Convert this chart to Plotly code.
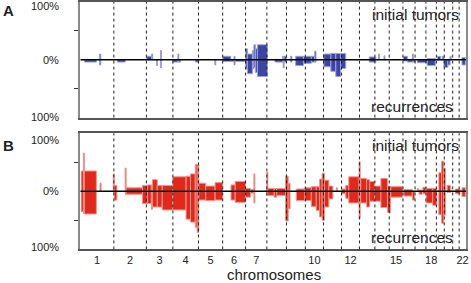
import plotly.graph_objects as go

# ---------------- data ----------------
chrom_names = [str(i) for i in range(1, 23)]
chrom_lengths = [249.3, 243.2, 198.0, 191.2, 180.9, 171.1, 159.1, 146.4, 141.2, 135.5, 135.0,
                 133.9, 115.2, 107.3, 102.5, 90.4, 81.2, 78.1, 59.1, 63.0, 48.1, 51.3]
shown_tick_labels = ["1", "2", "3", "4", "5", "6", "7", "10", "12", "15", "18", "22"]

# Panel A (genome position in Mb, frequency in %)
a_start = [30, 141, 275, 495, 532, 568, 598, 690, 728, 735, 859, 1004, 1064, 1123, 1147, 1155,
           1235, 1247, 1285, 1296, 1307, 1322, 1453, 1510, 1515, 1522, 1569, 1608, 1666, 1725, 1750,
           1819, 1871, 1908, 1945, 2158, 2228, 2268, 2413, 2443, 2480, 2487, 2517, 2591, 2666, 2703,
           2716, 2745, 2762, 2851]
a_end = [119, 152, 334, 532, 540, 575, 605, 728, 735, 748, 884, 1011, 1123, 1147, 1155, 1230,
         1247, 1285, 1296, 1307, 1322, 1396, 1510, 1515, 1522, 1539, 1580, 1666, 1725, 1750, 1760,
         1871, 1908, 1945, 1982, 2207, 2235, 2275, 2443, 2480, 2487, 2502, 2591, 2651, 2691, 2716,
         2745, 2762, 2770, 2876]
a_initial = [0, 10, 0, 6, 10, 0, 16, 0, 10, 0, 0, 0, 6, 0, 6, 0,
             19, 10, 16, 26, 19, 26, 0, 6, 6, 6, 6, 6, 6, 6, 15,
             10, 11, 11, 11, 5, 10, 7, 6, 0, 10, 0, 0, 2, 6, 6,
             0, 0, 6, 4]
a_recurrence = [4, 9, 4, 0, 0, 10, 14, 4, 4, 4, 4, 9, 3, 3, 9, 3,
                16, 24, 15, 13, 22, 29, 4, 4, 14, 4, 4, 10, 6, 4, 4,
                12, 20, 29, 15, 4, 0, 0, 2, 4, 4, 4, 5, 10, 0, 0,
                13, 9, 0, 9]

# Panel B
b_start = [5, 22, 29, 146, 245, 252, 334, 341, 463, 500, 530, 537, 574, 611, 690, 789, 822, 858, 872,
           884, 936, 1006, 1125, 1156, 1233, 1270, 1296, 1392, 1400, 1448, 1466, 1533, 1552, 1613,
           1676, 1725, 1762, 1787, 1806, 1823, 1856, 1912, 1953, 1982, 2005, 2082, 2094, 2138, 2161,
           2198, 2245, 2294, 2319, 2417, 2480, 2517, 2530, 2559, 2584, 2632, 2678, 2699, 2714, 2740,
           2801, 2851]
b_end = [22, 29, 119, 154, 252, 272, 341, 463, 500, 530, 537, 574, 611, 690, 789, 822, 858, 872, 884,
         936, 1006, 1062, 1156, 1233, 1270, 1296, 1303, 1400, 1448, 1466, 1533, 1552, 1566, 1676,
         1725, 1762, 1787, 1806, 1823, 1856, 1886, 1920, 1982, 2005, 2082, 2090, 2138, 2161, 2198,
         2245, 2294, 2317, 2406, 2480, 2497, 2525, 2554, 2580, 2632, 2662, 2699, 2714, 2727, 2764,
         2836, 2876]
b_initial = [35, 66, 35, 14, 30, 10, 40, 6, 10, 11, 11, 20, 10, 10, 25, 26, 30, 46, 46,
             14, 9, 15, 11, 17, 5, 3, 30, 33, 5, 5, 5, 26, 14, 4,
             6, 8, 8, 21, 31, 19, 9, 6, 4, 10, 25, 51, 22, 20, 17,
             9, 22, 9, 8, 3, 0, 5, 2, 7, 5, 5, 32, 52, 39, 10,
             4, 6]
b_recurrence = [35, 38, 39, 0, 0, 15, 5, 5, 21, 21, 31, 27, 27, 32, 32, 48, 53, 62, 71,
                15, 16, 15, 15, 19, 10, 3, 20, 7, 7, 10, 7, 51, 30, 16,
                16, 26, 33, 44, 50, 27, 13, 0, 4, 12, 20, 47, 20, 27, 17,
                17, 28, 36, 10, 8, 15, 0, 5, 4, 20, 24, 40, 55, 41, 2,
                4, 9]

# ---------------- figure ----------------
W, H = 471, 283
FONT = "Liberation Sans, Arial, Helvetica, sans-serif"

chrom_starts = []
pos = 0.0
for L in chrom_lengths:
    chrom_starts.append(pos)
    pos += L
genome_end = pos
chrom_centers = [s + L / 2 for s, L in zip(chrom_starts, chrom_lengths)]
tick_vals = [c for c, n in zip(chrom_centers, chrom_names) if n in shown_tick_labels]
tick_text = [n for n in chrom_names if n in shown_tick_labels]


def bar_trace(starts, ends, vals, sign, color, halo, xa, ya):
    xs, ws, ys = [], [], []
    for s, e, v in zip(starts, ends, vals):
        if v == 0:
            continue
        xs.append((s + e) / 2)
        ws.append(e - s)
        ys.append(sign * v)
    return go.Bar(x=xs, y=ys, width=ws, base=0, xaxis=xa, yaxis=ya,
                  marker=dict(color=color, line=dict(color=halo, width=1)),
                  showlegend=False, hoverinfo="skip")


BLUE, BLUE_HALO = "#3b45a5", "#9ea3d8"
RED, RED_HALO = "#e0291d", "#f0948a"

fig = go.Figure()
fig.add_trace(bar_trace(a_start, a_end, a_initial, 1, BLUE, BLUE_HALO, "x", "y"))
fig.add_trace(bar_trace(a_start, a_end, a_recurrence, -1, BLUE, BLUE_HALO, "x", "y"))
fig.add_trace(bar_trace(b_start, b_end, b_initial, 1, RED, RED_HALO, "x2", "y2"))
fig.add_trace(bar_trace(b_start, b_end, b_recurrence, -1, RED, RED_HALO, "x2", "y2"))

xdom = [81 / W, 469 / W]
ydomA = [1 - 117 / H, 1 - 1 / H]
ydomB = [1 - 249.3 / H, 1 - 132.7 / H]

xcommon = dict(range=[0, genome_end], domain=xdom, showgrid=False, zeroline=False,
               showline=True, mirror=True, linecolor="#555555", linewidth=1.5)
ycommon = dict(range=[-100, 100], showgrid=False, zeroline=False, showline=True, mirror=True,
               linecolor="#8a8a8a", linewidth=2, tickvals=[-50, 50], ticks="outside",
               ticklen=4, tickcolor="#333333", showticklabels=False)

fig.update_layout(
    width=W, height=H, margin=dict(l=0, r=0, t=0, b=0),
    paper_bgcolor="white", plot_bgcolor="white", barmode="overlay",
    font=dict(family=FONT, color="#222222"),
    xaxis=dict(**xcommon, anchor="y", showticklabels=False, ticks=""),
    yaxis=dict(**ycommon, domain=ydomA, anchor="x"),
    xaxis2=dict(**xcommon, anchor="y2", tickvals=tick_vals, ticktext=tick_text, ticks="",
                ticklabeloverflow="allow",
                tickfont=dict(size=11, family=FONT, color="#222222")),
    yaxis2=dict(**ycommon, domain=ydomB, anchor="x2"),
)

shapes = []
for xr, yr in (("x", "y"), ("x2", "y2")):
    for s in chrom_starts[1:]:
        shapes.append(dict(type="line", xref=xr, yref=yr + " domain", x0=s, x1=s, y0=0, y1=1,
                           line=dict(color="#222222", width=1, dash="dot"), layer="above"))
    shapes.append(dict(type="line", xref=xr + " domain", yref=yr, x0=0, x1=1, y0=0, y1=0,
                       line=dict(color="black", width=1.5), layer="above"))
fig.update_layout(shapes=shapes)


def ann(text, px, py, size, xanchor="right", bold=False):
    return dict(text=("<b>%s</b>" % text) if bold else text, x=px / W, y=1 - py / H,
                xref="paper", yref="paper", xanchor=xanchor, yanchor="middle", showarrow=False,
                font=dict(size=size, family=FONT, color="#222222"))


anns = [
    ann("A", 1, 10, 15, "left", True),
    ann("B", 1, 145, 15, "left", True),
    ann("100%", 61, 5, 11), ann("0%", 61, 59.3, 11), ann("100%", 61, 116, 11),
    ann("100%", 61, 139, 11), ann("0%", 61, 191, 11), ann("100%", 61, 246.5, 11),
    ann("initial tumors", 464, 14, 15.5), ann("recurrences", 458, 106, 15.5),
    ann("initial tumors", 464, 145, 15.5), ann("recurrences", 458, 237, 15.5),
    ann("chromosomes", 276, 274.5, 15, "center"),
]
fig.update_layout(annotations=anns)

fig.write_html(
    "out.html",
    config={"displayModeBar": False},
    post_script="document.body.style.margin='0';document.body.style.padding='0';"
                "document.body.style.overflow='hidden';",
)
